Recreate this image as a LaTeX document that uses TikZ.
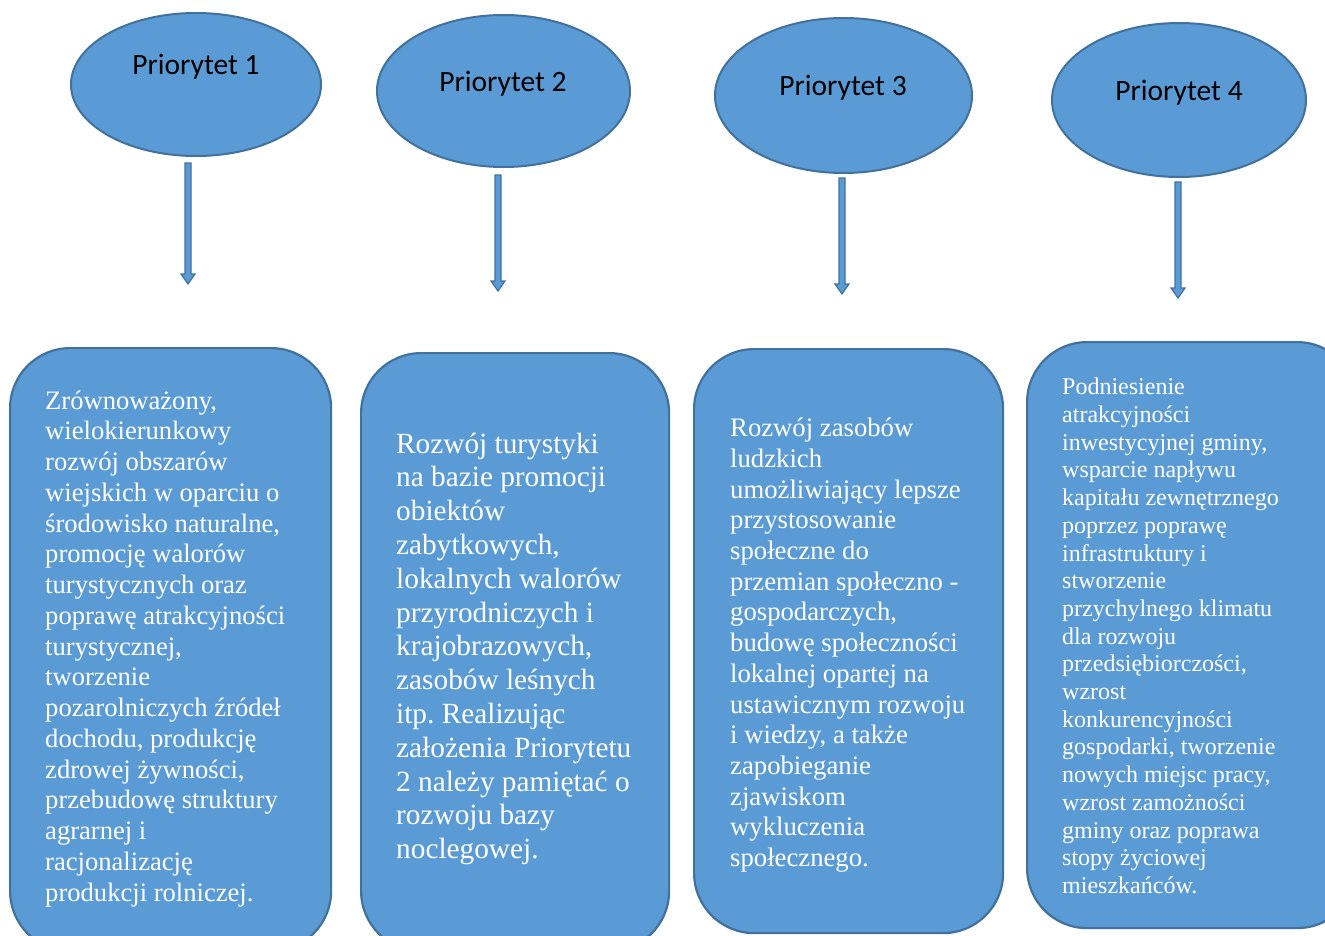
\documentclass[tikz,border=0pt]{standalone}
\usepackage{fontspec}
\setmainfont{Liberation Serif}
\newfontfamily\calibfont{Carlito}
\usetikzlibrary{shapes.geometric,calc}
\frenchspacing
\definecolor{blueFill}{HTML}{5B9BD5}
\definecolor{blueEdge}{HTML}{41719C}
\tikzset{
 prio/.style={ellipse, draw=blueEdge, fill=blueFill, line width=2pt, inner sep=0pt},
 priolabel/.style={font=\calibfont\fontsize{29.5}{34}\selectfont, text=black, inner sep=0pt},
 goalbox/.style={draw=blueEdge, fill=blueFill, line width=2.2pt, rounded corners=60pt, inner sep=0pt, anchor=north west},
 goaltext/.style={text=white, align=left, inner sep=0pt, anchor=north west},
 blockarrow/.style={draw=blueEdge, fill=blueFill, line width=1.2pt, line join=miter}
}
\newcommand\prioarrow[2]{%
 \draw[blockarrow] ($(#1)+(-3pt,0pt)$) -- ($(#2)+(-3pt,10pt)$) -- ($(#2)+(-7pt,10pt)$) -- (#2) -- ($(#2)+(7pt,10pt)$) -- ($(#2)+(3pt,10pt)$) -- ($(#1)+(3pt,0pt)$) -- cycle;}
\begin{document}
\begin{tikzpicture}[x=1pt,y=-1pt]
\useasboundingbox (0,0) rectangle (1325,935);
\clip (0,0) rectangle (1325,935);
\fill[white] (0,0) rectangle (1325,935);

% ellipses
\node[prio, minimum width=250pt, minimum height=143pt] (e1) at (196,84.5) {};
\node[prio, minimum width=253pt, minimum height=152pt] (e2) at (503.5,91) {};
\node[prio, minimum width=257pt, minimum height=155pt] (e3) at (843.5,95.5) {};
\node[prio, minimum width=254pt, minimum height=154pt] (e4) at (1179,100) {};
\node[priolabel] (l1) at (196,67) {Priorytet 1};
\node[priolabel] (l2) at (503,84) {Priorytet 2};
\node[priolabel] (l3) at (843,88) {Priorytet 3};
\node[priolabel] (l4) at (1179,93) {Priorytet 4};

% arrows
\coordinate (a1s) at (188,163); \coordinate (a1e) at (188,284);
\coordinate (a2s) at (498,175); \coordinate (a2e) at (498,291);
\coordinate (a3s) at (842,178); \coordinate (a3e) at (842,294);
\coordinate (a4s) at (1178,182); \coordinate (a4e) at (1178,298);
\prioarrow{a1s}{a1e}
\prioarrow{a2s}{a2e}
\prioarrow{a3s}{a3e}
\prioarrow{a4s}{a4e}

% boxes
\node[goalbox, minimum width=321pt, minimum height=603pt] (b1) at (9,347) {};
\node[goalbox, minimum width=308pt, minimum height=598pt] (b2) at (360,352) {};
\node[goalbox, minimum width=309pt, minimum height=584pt] (b3) at (693,348) {};
\node[goalbox, minimum width=330pt, minimum height=586pt] (b4) at (1026,341) {};

\node[goaltext, font=\fontsize{26.6}{30.75}\selectfont] (t1) at (45,390.5) {Zrównoważony,\\wielokierunkowy\\rozwój obszarów\\wiejskich w oparciu o\\środowisko naturalne,\\promocję walorów\\turystycznych oraz\\poprawę atrakcyjności\\turystycznej,\\tworzenie\\pozarolniczych źródeł\\dochodu, produkcję\\zdrowej żywności,\\przebudowę struktury\\agrarnej i\\racjonalizację\\produkcji rolniczej.};
\node[goaltext, font=\fontsize{29.3}{33.8}\selectfont] (t2) at (396,432.5) {Rozwój turystyki\\na bazie promocji\\obiektów\\zabytkowych,\\lokalnych walorów\\przyrodniczych i\\krajobrazowych,\\zasobów leśnych\\itp. Realizując\\założenia Priorytetu\\2 należy pamiętać o\\rozwoju bazy\\noclegowej.};
\node[goaltext, font=\fontsize{26.7}{30.7}\selectfont] (t3) at (730,418) {Rozwój zasobów\\ludzkich\\umożliwiający lepsze\\przystosowanie\\społeczne do\\przemian społeczno -\\gospodarczych,\\budowę społeczności\\lokalnej opartej na\\ustawicznym rozwoju\\i wiedzy, a także\\zapobieganie\\zjawiskom\\wykluczenia\\społecznego.};
\node[goaltext, font=\fontsize{24}{27.7}\selectfont] (t4) at (1062,378) {Podniesienie\\atrakcyjności\\inwestycyjnej gminy,\\wsparcie napływu\\kapitału zewnętrznego\\poprzez poprawę\\infrastruktury i\\stworzenie\\przychylnego klimatu\\dla rozwoju\\przedsiębiorczości,\\wzrost\\konkurencyjności\\gospodarki, tworzenie\\nowych miejsc pracy,\\wzrost zamożności\\gminy oraz poprawa\\stopy życiowej\\mieszkańców.};
\end{tikzpicture}
\end{document}
